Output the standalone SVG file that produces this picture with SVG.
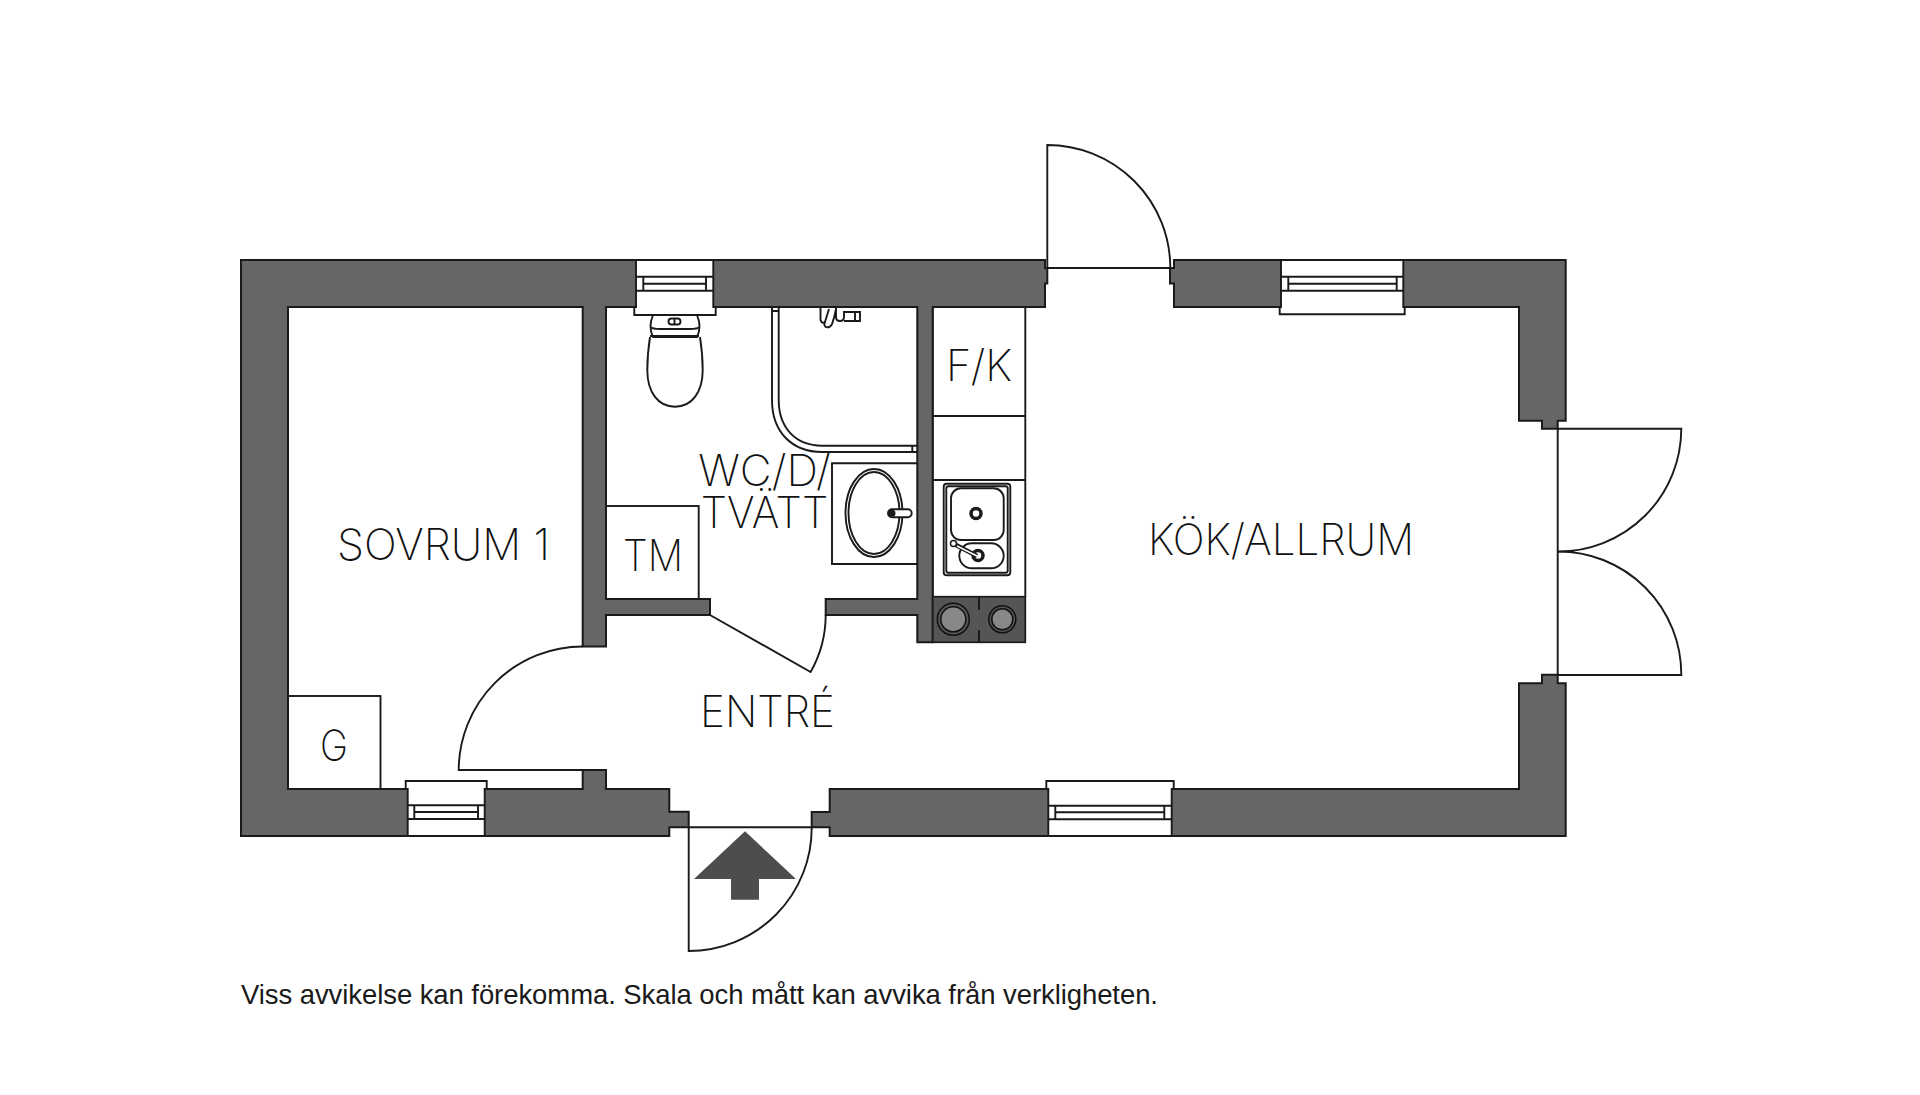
<svg xmlns="http://www.w3.org/2000/svg" width="1920" height="1095" viewBox="0 0 1920 1095">
<style>
.w{fill:#666;stroke:#1a1a1a;stroke-width:2;stroke-linejoin:miter}
.l{fill:none;stroke:#1a1a1a;stroke-width:1.9}
.f{fill:#fff;stroke:#1a1a1a;stroke-width:1.9}
.t{font-family:"Inter","Open Sans",sans-serif;font-weight:200;font-size:43px;fill:#111}
.n{font-family:"Liberation Sans",Arial,sans-serif;font-size:27.5px;fill:#1a1a1a}
</style>
<rect width="1920" height="1095" fill="#fff"/>
<g id="fixtures-boxes">
<rect class="l" x="288" y="696" width="92.5" height="93"/>
<rect class="l" x="606" y="506" width="92.7" height="93"/>
<path class="l" d="M932.7 307V597M1025.3 307V597M932.7 416H1025.3M932.7 480H1025.3M932.7 597H1025.3"/>
<path class="l" d="M917.3 463.3H832V564H917.3"/>
</g>
<g id="walls">
<path class="w" d="M669.3 836H241V260H1045V268H1047.3V283.5H1045V307H932.7V642.3H917.3V615H825.7V599H917.3V307H606V599H710V615H606V646.5H582.7V307H288V789H582.7V770H606V789H669.3V811.7H688.7V827.3H669.3Z"/>
<path class="w" d="M829.7 836V827.3H811.7V812H829.7V789H1519V683.3H1542V674.7H1557.7V683.3H1565.7V836Z"/>
<path class="w" d="M1174 260H1565.7V420.7H1557.7V428.7H1542V420.7H1519V307H1174V283.5H1170V268H1174Z"/>
</g>
<g id="windows">
<path class="f" d="M636 260H713.3V307H715.7V315H634.3V307H636Z"/>
<path class="l" d="M636 276.7H713.3M643.3 283.7H706M636 290.7H713.3M643.3 276.7V290.7M706 276.7V290.7"/>
<path class="f" d="M1281 260H1403.3V307H1404.7V314.3H1279.7V307H1281Z"/>
<path class="l" d="M1281 276.7H1403.3M1288.3 283.7H1396.7M1281 290.7H1403.3M1288.3 276.7V290.7M1396.7 276.7V290.7"/>
<path class="f" d="M407.7 836H484.7V789H486.7V781H405.7V789H407.7Z"/>
<path class="l" d="M407.7 805.3H484.7M414.3 812H478M407.7 819H484.7M414.3 805.3V819M478 805.3V819"/>
<path class="f" d="M1048.3 836H1171.7V789H1173.7V781H1046.3V789H1048.3Z"/>
<path class="l" d="M1048.3 805.7H1171.7M1055.3 812.3H1164.3M1048.3 819.3H1171.7M1055.3 805.7V819.3M1164.3 805.7V819.3"/>
</g>
<g id="doors">
<path class="l" d="M688.7 827.3H811.7A123 123 0 0 1 688.7 951V827.3"/>
<path class="l" d="M1047.3 268H1170.3A123 123 0 0 0 1047.3 145V268"/>
<path class="l" d="M1557.7 428.7V675M1557.7 428.7H1681.3A123 123 0 0 1 1557.7 551.5A123 123 0 0 1 1681.3 675H1557.7"/>
<path class="l" d="M606 770H458.7A124 124 0 0 1 582.7 646.5"/>
<path class="l" d="M710 615L810.6 672A115.7 115.7 0 0 0 825.7 615"/>
</g>
<g id="toilet">
<path class="l" d="M653 315C651 320 650.500 323 650.500 326C650.500 329 651 333 653 337H697C699 333 699.500 329 699.500 326C699.500 323 699 320 697 315"/>
<path class="l" d="M651 327Q652 329 660 329H690Q698 329 699 327"/>
<path class="l" stroke-width="2.400" d="M650 336H699"/>
<path class="l" d="M650 337C648 350 647.300 360 647.300 370C647.300 392 658 406.700 675 406.700C692 406.700 702.700 392 702.700 370C702.700 360 702 350 700 337"/>
<rect class="l" x="668.500" y="318.500" width="12" height="6" rx="3"/>
<path class="l" d="M674.500 318.500V324.500"/>
</g>
<g id="shower">
<path class="l" d="M772 307V400C772 432 792 452 822 452H917M778.700 307V400C778.700 428 796 445.700 822 445.700H917"/>
<path class="l" d="M772 311H778.700M912.300 445.700V452"/>
<path class="l" stroke-width="2.200" d="M820.500 307V319C820.500 322 823 323 825 323M829 309L825 322C823 326 826 328 829 327C833 326 832 322 834 318L836 309M836 307V317C836 320 838 321 840 321C843 321 844 320 844 317V312H860V321H844M855 312V321"/>
</g>
<g id="basin">
<ellipse class="l" cx="874" cy="513" rx="28.500" ry="44"/>
<ellipse class="l" cx="874" cy="513" rx="25.500" ry="41"/>
<rect class="f" x="888" y="509.300" width="23.700" height="8" rx="4"/>
<circle cx="892" cy="513.300" r="3.500" fill="#1a1a1a"/>
</g>
<g id="sink">
<rect class="l" x="943.700" y="483.700" width="66.600" height="91.600" rx="3"/>
<rect class="l" x="946.300" y="486.300" width="61.400" height="86.400" rx="2"/>
<rect class="l" x="951" y="488.300" width="52.700" height="51.700" rx="10"/>
<rect class="l" x="959.300" y="543.300" width="44.400" height="25" rx="12.500"/>
<circle cx="976" cy="513.500" r="5" fill="#fff" stroke="#1a1a1a" stroke-width="3.500"/>
<circle cx="978" cy="555.500" r="5" fill="#fff" stroke="#1a1a1a" stroke-width="3.500"/>
<path d="M954 544L977 556" stroke="#1a1a1a" stroke-width="4.500" fill="none"/>
<path d="M957 546L977 556" stroke="#fff" stroke-width="1.500" fill="none"/>
<circle cx="953.500" cy="543.500" r="3" fill="#fff" stroke="#1a1a1a" stroke-width="1.500"/>
</g>
<g id="hob">
<rect x="932.700" y="596.700" width="92.600" height="45.600" fill="#555" stroke="#1a1a1a" stroke-width="1.700"/>
<path class="l" d="M979 597V610M979 630V642"/>
<circle cx="953.300" cy="619.300" r="16" fill="#555" stroke="#111" stroke-width="1.500"/>
<circle cx="953.300" cy="619.300" r="12.500" fill="#888" stroke="#111" stroke-width="1.500"/>
<circle cx="1002.300" cy="619.300" r="13.500" fill="#555" stroke="#111" stroke-width="1.500"/>
<circle cx="1002.300" cy="619.300" r="10.500" fill="#888" stroke="#111" stroke-width="1.500"/>
</g>
<path id="entry-arrow" fill="#4d4d4d" d="M745 831.300L796 879H759V899.700H731V879H694Z"/>
<g id="labels">
<text class="t" x="337" y="560" textLength="213" lengthAdjust="spacingAndGlyphs">SOVRUM 1</text>
<text class="t" x="1148" y="555" textLength="266" lengthAdjust="spacingAndGlyphs">KÖK/ALLRUM</text>
<text class="t" x="700" y="726.700" textLength="135" lengthAdjust="spacingAndGlyphs">ENTRÉ</text>
<text class="t" x="946" y="380.700" textLength="66" lengthAdjust="spacingAndGlyphs">F/K</text>
<text class="t" x="623" y="571" textLength="60" lengthAdjust="spacingAndGlyphs">TM</text>
<text class="t" x="698.300" y="485.700" textLength="132.500" lengthAdjust="spacingAndGlyphs">WC/D/</text>
<text class="t" x="700.700" y="527.700" textLength="127.500" lengthAdjust="spacingAndGlyphs">TVÄTT</text>
<text class="t" x="320" y="760.700" textLength="28" lengthAdjust="spacingAndGlyphs">G</text>
<text class="n" x="241" y="1003.500" textLength="917" lengthAdjust="spacing">Viss avvikelse kan förekomma. Skala och mått kan avvika från verkligheten.</text>
</g>
</svg>
